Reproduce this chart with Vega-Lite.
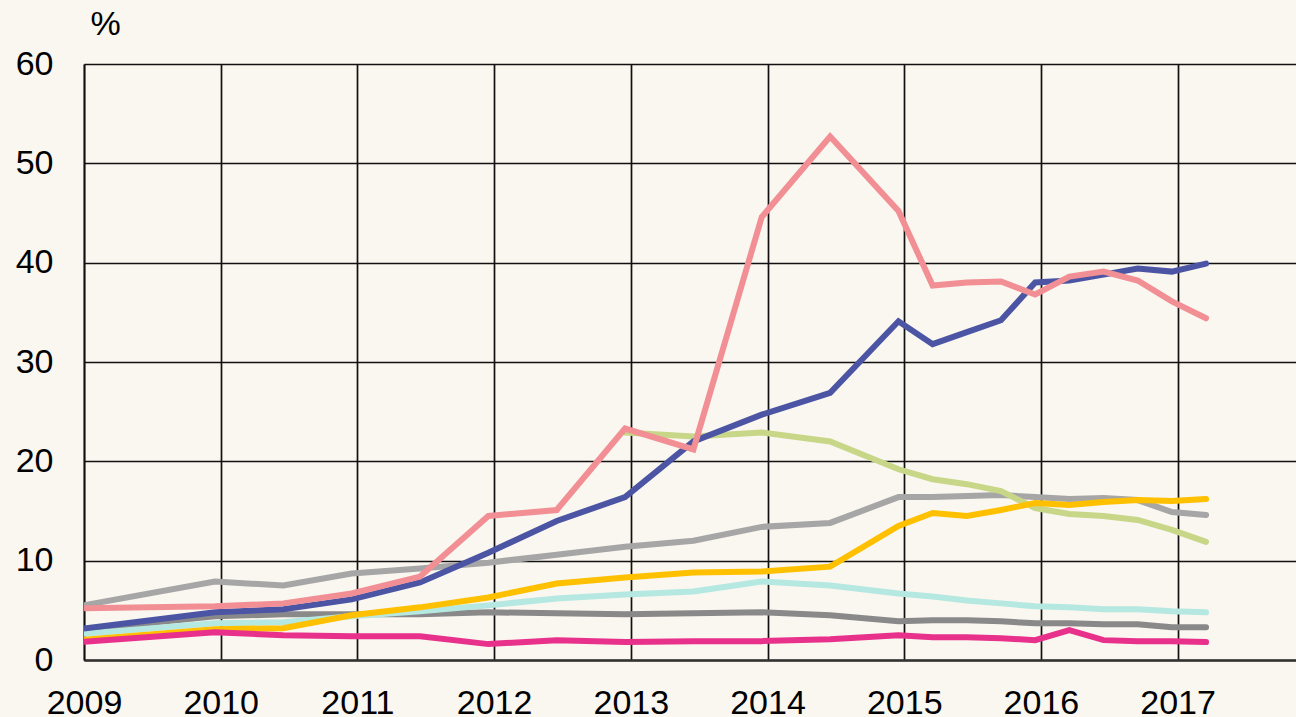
{
  "$schema": "https://vega.github.io/schema/vega-lite/v6.json",
  "width": 1212,
  "height": 596,
  "autosize": {"type": "none"},
  "padding": {"left": 84, "top": 64, "right": 0, "bottom": 57},
  "background": "#faf6f0",
  "config": {
    "view": {"stroke": null},
    "font": "Liberation Sans",
    "axis": {
      "labelFont": "Liberation Sans",
      "labelFontSize": 34,
      "labelColor": "#000000",
      "ticks": false,
      "tickSize": 0,
      "grid": true,
      "gridColor": "#111111",
      "gridWidth": 1.7,
      "gridOpacity": 1
    }
  },
  "data": {
    "values": [
      {"s": "S1", "t": 2008.958, "v": 3.0}, {"s": "S1", "t": 2009.958, "v": 4.4}, {"s": "S1", "t": 2010.458, "v": 4.6}, {"s": "S1", "t": 2010.958, "v": 4.6}, {"s": "S1", "t": 2011.458, "v": 4.6}, {"s": "S1", "t": 2011.958, "v": 4.8}, {"s": "S1", "t": 2012.458, "v": 4.7}, {"s": "S1", "t": 2012.958, "v": 4.6}, {"s": "S1", "t": 2013.458, "v": 4.7}, {"s": "S1", "t": 2013.958, "v": 4.8}, {"s": "S1", "t": 2014.458, "v": 4.5}, {"s": "S1", "t": 2014.958, "v": 3.9}, {"s": "S1", "t": 2015.208, "v": 4.0}, {"s": "S1", "t": 2015.458, "v": 4.0}, {"s": "S1", "t": 2015.708, "v": 3.9}, {"s": "S1", "t": 2015.958, "v": 3.7}, {"s": "S1", "t": 2016.208, "v": 3.7}, {"s": "S1", "t": 2016.458, "v": 3.6}, {"s": "S1", "t": 2016.708, "v": 3.6}, {"s": "S1", "t": 2016.958, "v": 3.3}, {"s": "S1", "t": 2017.208, "v": 3.3},
      {"s": "S2", "t": 2008.958, "v": 5.4}, {"s": "S2", "t": 2009.958, "v": 7.9}, {"s": "S2", "t": 2010.458, "v": 7.5}, {"s": "S2", "t": 2010.958, "v": 8.7}, {"s": "S2", "t": 2011.458, "v": 9.2}, {"s": "S2", "t": 2011.958, "v": 9.8}, {"s": "S2", "t": 2012.458, "v": 10.6}, {"s": "S2", "t": 2012.958, "v": 11.4}, {"s": "S2", "t": 2013.458, "v": 12.0}, {"s": "S2", "t": 2013.958, "v": 13.4}, {"s": "S2", "t": 2014.458, "v": 13.8}, {"s": "S2", "t": 2014.958, "v": 16.4}, {"s": "S2", "t": 2015.208, "v": 16.4}, {"s": "S2", "t": 2015.458, "v": 16.5}, {"s": "S2", "t": 2015.708, "v": 16.6}, {"s": "S2", "t": 2015.958, "v": 16.4}, {"s": "S2", "t": 2016.208, "v": 16.2}, {"s": "S2", "t": 2016.458, "v": 16.3}, {"s": "S2", "t": 2016.708, "v": 16.1}, {"s": "S2", "t": 2016.958, "v": 14.9}, {"s": "S2", "t": 2017.208, "v": 14.6},
      {"s": "S3", "t": 2008.958, "v": 2.6}, {"s": "S3", "t": 2009.958, "v": 3.7}, {"s": "S3", "t": 2010.458, "v": 3.8}, {"s": "S3", "t": 2010.958, "v": 4.4}, {"s": "S3", "t": 2011.458, "v": 4.9}, {"s": "S3", "t": 2011.958, "v": 5.5}, {"s": "S3", "t": 2012.458, "v": 6.2}, {"s": "S3", "t": 2012.958, "v": 6.6}, {"s": "S3", "t": 2013.458, "v": 6.9}, {"s": "S3", "t": 2013.958, "v": 7.9}, {"s": "S3", "t": 2014.458, "v": 7.5}, {"s": "S3", "t": 2014.958, "v": 6.7}, {"s": "S3", "t": 2015.208, "v": 6.4}, {"s": "S3", "t": 2015.458, "v": 6.0}, {"s": "S3", "t": 2015.708, "v": 5.7}, {"s": "S3", "t": 2015.958, "v": 5.4}, {"s": "S3", "t": 2016.208, "v": 5.3}, {"s": "S3", "t": 2016.458, "v": 5.1}, {"s": "S3", "t": 2016.708, "v": 5.1}, {"s": "S3", "t": 2016.958, "v": 4.9}, {"s": "S3", "t": 2017.208, "v": 4.8},
      {"s": "S4", "t": 2012.958, "v": 22.9}, {"s": "S4", "t": 2013.458, "v": 22.5}, {"s": "S4", "t": 2013.958, "v": 22.9}, {"s": "S4", "t": 2014.458, "v": 22.0}, {"s": "S4", "t": 2014.958, "v": 19.2}, {"s": "S4", "t": 2015.208, "v": 18.2}, {"s": "S4", "t": 2015.458, "v": 17.7}, {"s": "S4", "t": 2015.708, "v": 17.0}, {"s": "S4", "t": 2015.958, "v": 15.3}, {"s": "S4", "t": 2016.208, "v": 14.7}, {"s": "S4", "t": 2016.458, "v": 14.5}, {"s": "S4", "t": 2016.708, "v": 14.1}, {"s": "S4", "t": 2016.958, "v": 13.1}, {"s": "S4", "t": 2017.208, "v": 11.9},
      {"s": "S5", "t": 2008.958, "v": 2.0}, {"s": "S5", "t": 2009.958, "v": 3.1}, {"s": "S5", "t": 2010.458, "v": 3.2}, {"s": "S5", "t": 2010.958, "v": 4.5}, {"s": "S5", "t": 2011.458, "v": 5.3}, {"s": "S5", "t": 2011.958, "v": 6.3}, {"s": "S5", "t": 2012.458, "v": 7.7}, {"s": "S5", "t": 2012.958, "v": 8.3}, {"s": "S5", "t": 2013.458, "v": 8.8}, {"s": "S5", "t": 2013.958, "v": 8.9}, {"s": "S5", "t": 2014.458, "v": 9.4}, {"s": "S5", "t": 2014.958, "v": 13.5}, {"s": "S5", "t": 2015.208, "v": 14.8}, {"s": "S5", "t": 2015.458, "v": 14.5}, {"s": "S5", "t": 2015.708, "v": 15.1}, {"s": "S5", "t": 2015.958, "v": 15.8}, {"s": "S5", "t": 2016.208, "v": 15.6}, {"s": "S5", "t": 2016.458, "v": 15.9}, {"s": "S5", "t": 2016.708, "v": 16.1}, {"s": "S5", "t": 2016.958, "v": 16.0}, {"s": "S5", "t": 2017.208, "v": 16.2},
      {"s": "S6", "t": 2008.958, "v": 3.1}, {"s": "S6", "t": 2009.958, "v": 4.8}, {"s": "S6", "t": 2010.458, "v": 5.1}, {"s": "S6", "t": 2010.958, "v": 6.1}, {"s": "S6", "t": 2011.458, "v": 7.8}, {"s": "S6", "t": 2011.958, "v": 10.8}, {"s": "S6", "t": 2012.458, "v": 14.0}, {"s": "S6", "t": 2012.958, "v": 16.4}, {"s": "S6", "t": 2013.458, "v": 22.0}, {"s": "S6", "t": 2013.958, "v": 24.7}, {"s": "S6", "t": 2014.458, "v": 26.9}, {"s": "S6", "t": 2014.958, "v": 34.1}, {"s": "S6", "t": 2015.208, "v": 31.8}, {"s": "S6", "t": 2015.458, "v": 33.0}, {"s": "S6", "t": 2015.708, "v": 34.2}, {"s": "S6", "t": 2015.958, "v": 38.0}, {"s": "S6", "t": 2016.208, "v": 38.2}, {"s": "S6", "t": 2016.458, "v": 38.8}, {"s": "S6", "t": 2016.708, "v": 39.4}, {"s": "S6", "t": 2016.958, "v": 39.1}, {"s": "S6", "t": 2017.208, "v": 39.9},
      {"s": "S7", "t": 2008.958, "v": 5.2}, {"s": "S7", "t": 2009.958, "v": 5.4}, {"s": "S7", "t": 2010.458, "v": 5.7}, {"s": "S7", "t": 2010.958, "v": 6.7}, {"s": "S7", "t": 2011.458, "v": 8.4}, {"s": "S7", "t": 2011.958, "v": 14.5}, {"s": "S7", "t": 2012.458, "v": 15.1}, {"s": "S7", "t": 2012.958, "v": 23.3}, {"s": "S7", "t": 2013.458, "v": 21.2}, {"s": "S7", "t": 2013.958, "v": 44.6}, {"s": "S7", "t": 2014.458, "v": 52.7}, {"s": "S7", "t": 2014.958, "v": 45.2}, {"s": "S7", "t": 2015.208, "v": 37.7}, {"s": "S7", "t": 2015.458, "v": 38.0}, {"s": "S7", "t": 2015.708, "v": 38.1}, {"s": "S7", "t": 2015.958, "v": 36.8}, {"s": "S7", "t": 2016.208, "v": 38.6}, {"s": "S7", "t": 2016.458, "v": 39.1}, {"s": "S7", "t": 2016.708, "v": 38.2}, {"s": "S7", "t": 2016.958, "v": 36.1}, {"s": "S7", "t": 2017.208, "v": 34.4},
      {"s": "S8", "t": 2008.958, "v": 1.8}, {"s": "S8", "t": 2009.958, "v": 2.8}, {"s": "S8", "t": 2010.458, "v": 2.5}, {"s": "S8", "t": 2010.958, "v": 2.4}, {"s": "S8", "t": 2011.458, "v": 2.4}, {"s": "S8", "t": 2011.958, "v": 1.6}, {"s": "S8", "t": 2012.458, "v": 2.0}, {"s": "S8", "t": 2012.958, "v": 1.8}, {"s": "S8", "t": 2013.458, "v": 1.9}, {"s": "S8", "t": 2013.958, "v": 1.9}, {"s": "S8", "t": 2014.458, "v": 2.1}, {"s": "S8", "t": 2014.958, "v": 2.5}, {"s": "S8", "t": 2015.208, "v": 2.3}, {"s": "S8", "t": 2015.458, "v": 2.3}, {"s": "S8", "t": 2015.708, "v": 2.2}, {"s": "S8", "t": 2015.958, "v": 2.0}, {"s": "S8", "t": 2016.208, "v": 3.0}, {"s": "S8", "t": 2016.458, "v": 2.0}, {"s": "S8", "t": 2016.708, "v": 1.9}, {"s": "S8", "t": 2016.958, "v": 1.9}, {"s": "S8", "t": 2017.208, "v": 1.8}
    ]
  },
  "mark": {"type": "line", "strokeWidth": 6, "strokeCap": "round", "clip": true},
  "encoding": {
    "x": {
      "field": "t",
      "type": "quantitative",
      "scale": {"domain": [2009, 2017.866], "nice": false, "zero": false},
      "axis": {
        "title": null,
        "values": [2009, 2010, 2011, 2012, 2013, 2014, 2015, 2016, 2017],
        "format": "d",
        "domainColor": "#333333",
        "domainWidth": 2.5,
        "labelBaseline": "alphabetic",
        "labelPadding": 53,
        "labelDx": 5,
        "labelFlush": false,
        "labelOverlap": false
      }
    },
    "y": {
      "field": "v",
      "type": "quantitative",
      "scale": {"domain": [0, 60], "nice": false},
      "axis": {
        "title": "%",
        "titleAngle": 0,
        "titleAlign": "left",
        "titleBaseline": "alphabetic",
        "titleX": 6,
        "titleY": -30,
        "titleFontSize": 34,
        "titleFont": "Liberation Sans",
        "titleFontWeight": "normal",
        "titleColor": "#000000",
        "values": [0, 10, 20, 30, 40, 50, 60],
        "domainColor": "#111111",
        "domainWidth": 1.7,
        "labelPadding": 31,
        "labelFlush": false
      }
    },
    "color": {
      "field": "s",
      "type": "nominal",
      "scale": {
        "domain": ["S1", "S2", "S3", "S4", "S5", "S6", "S7", "S8"],
        "range": ["#898989", "#a6a6a6", "#b5e8e0", "#c8d688", "#ffc000", "#4b55a4", "#f28f95", "#e8318b"]
      },
      "legend": null
    }
  }
}
